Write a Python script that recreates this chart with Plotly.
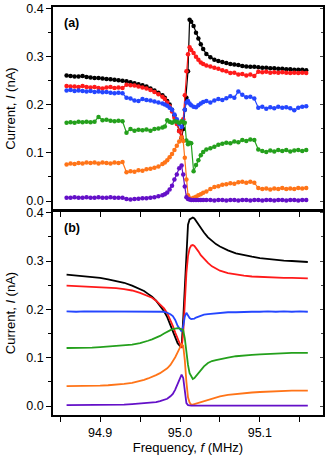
import plotly.graph_objects as go

# ---------------------------------------------------------------------------
# Panel (a): measured current vs. frequency (markers + lines)
# ---------------------------------------------------------------------------
freq_a = [
    94.858, 94.863, 94.868, 94.873, 94.878, 94.883, 94.888, 94.893, 94.898, 94.903,
    94.908, 94.913, 94.918, 94.923, 94.928, 94.933, 94.938, 94.943, 94.948, 94.953,
    94.958, 94.963, 94.968, 94.973, 94.978,
    94.981, 94.984, 94.987, 94.990, 94.993, 94.996, 94.999, 95.002, 95.004, 95.006,
    95.008, 95.010, 95.012, 95.014, 95.017, 95.020, 95.023, 95.026, 95.029,
    95.033, 95.038, 95.043, 95.048, 95.053, 95.058, 95.063, 95.068, 95.073, 95.078,
    95.083, 95.088, 95.093, 95.098, 95.103, 95.108, 95.113, 95.118, 95.123, 95.128,
    95.133, 95.138, 95.143, 95.148, 95.153, 95.158,
]

black_a = [
    0.261, 0.260, 0.259, 0.259, 0.260, 0.258, 0.257, 0.256, 0.256, 0.255,
    0.254, 0.253, 0.252, 0.251, 0.250, 0.249, 0.247, 0.245, 0.243, 0.241,
    0.238, 0.234, 0.230, 0.225, 0.220,
    0.215, 0.208, 0.201, 0.190, 0.178, 0.163, 0.146, 0.130, 0.150, 0.190,
    0.215, 0.270, 0.377, 0.373, 0.364, 0.350, 0.338, 0.326, 0.316,
    0.306, 0.299, 0.294, 0.291, 0.289, 0.287, 0.285, 0.284, 0.283, 0.281,
    0.280, 0.279, 0.279, 0.278, 0.277, 0.277, 0.276, 0.276, 0.275, 0.275,
    0.274, 0.274, 0.273, 0.273, 0.273, 0.272,
]

red_a = [
    0.239, 0.238, 0.238, 0.237, 0.239, 0.237, 0.236, 0.237, 0.235, 0.234,
    0.236, 0.237, 0.235, 0.236, 0.235, 0.242, 0.241, 0.240, 0.238, 0.236,
    0.234, 0.231, 0.227, 0.222, 0.217,
    0.212, 0.205, 0.197, 0.186, 0.173, 0.160, 0.145, 0.133, 0.170, 0.220,
    0.270, 0.305, 0.320, 0.314, 0.308, 0.300, 0.294, 0.288, 0.285,
    0.282, 0.280, 0.277, 0.275, 0.272, 0.270, 0.266, 0.267, 0.263, 0.264,
    0.261, 0.263, 0.260, 0.269, 0.268, 0.269, 0.267, 0.268, 0.267, 0.268,
    0.267, 0.266, 0.267, 0.266, 0.267, 0.266,
]

blue_a = [
    0.230, 0.231, 0.229, 0.230, 0.229, 0.228, 0.229, 0.227, 0.228, 0.226,
    0.227, 0.225, 0.224, 0.225, 0.224, 0.215, 0.213, 0.209, 0.208, 0.212,
    0.210, 0.209, 0.207, 0.205, 0.203,
    0.201, 0.198, 0.194, 0.190, 0.180, 0.170, 0.160, 0.154, 0.165, 0.190,
    0.205, 0.208, 0.203, 0.199, 0.196, 0.195, 0.199, 0.203, 0.206,
    0.208, 0.205, 0.209, 0.212, 0.210, 0.214, 0.218, 0.215, 0.228, 0.221,
    0.216, 0.217, 0.213, 0.194, 0.196, 0.192, 0.195, 0.193, 0.196, 0.194,
    0.195, 0.193, 0.189, 0.194, 0.196, 0.197,
]

green_a = [
    0.163, 0.164, 0.163, 0.165, 0.164, 0.165, 0.164, 0.165, 0.175, 0.168,
    0.169, 0.167, 0.166, 0.167, 0.166, 0.142, 0.150, 0.146, 0.148, 0.147,
    0.149, 0.146, 0.150, 0.151, 0.153,
    0.155, 0.168, 0.165, 0.163, 0.166, 0.165, 0.163, 0.166, 0.164, 0.163,
    0.126, 0.118, 0.121, 0.120, 0.062, 0.075, 0.085, 0.095, 0.102,
    0.107, 0.110, 0.113, 0.117, 0.119, 0.121, 0.120, 0.124, 0.122, 0.127,
    0.125, 0.128, 0.127, 0.107, 0.104, 0.102, 0.105, 0.103, 0.106, 0.104,
    0.106, 0.103, 0.105, 0.106, 0.104, 0.106,
]

orange_a = [
    0.076, 0.078, 0.077, 0.079, 0.078, 0.080, 0.079, 0.080, 0.078, 0.080,
    0.079, 0.078, 0.080, 0.079, 0.081, 0.060, 0.062, 0.061, 0.064, 0.063,
    0.066, 0.067, 0.069, 0.072, 0.077,
    0.080, 0.085, 0.091, 0.098, 0.106, 0.115, 0.124, 0.132, 0.125, 0.090,
    0.045, 0.012, 0.006, 0.005, 0.007, 0.009, 0.012, 0.014, 0.017,
    0.020, 0.025, 0.029, 0.031, 0.034, 0.035, 0.037, 0.036, 0.039, 0.040,
    0.038, 0.040, 0.038, 0.027, 0.025, 0.026, 0.024, 0.026, 0.025, 0.027,
    0.025, 0.026, 0.025, 0.027, 0.026, 0.027,
]

purple_a = [
    0.007, 0.007, 0.008, 0.007, 0.007, 0.008, 0.007, 0.007, 0.008, 0.007,
    0.007, 0.008, 0.007, 0.007, 0.007, 0.004, 0.003, 0.004, 0.005, 0.006,
    0.006, 0.007, 0.008, 0.010, 0.012,
    0.014, 0.018, 0.024, 0.032, 0.045, 0.055, 0.068, 0.074, 0.055, 0.030,
    0.008, 0.004, 0.003, 0.002, 0.002, 0.002, 0.002, 0.002, 0.002,
    0.002, 0.002, 0.001, 0.002, 0.002, 0.001, 0.002, 0.002, 0.001, 0.002,
    0.002, 0.001, 0.002, 0.002, 0.001, 0.002, 0.002, 0.001, 0.002, 0.002,
    0.001, 0.002, 0.002, 0.001, 0.002, 0.002,
]

# ---------------------------------------------------------------------------
# Panel (b): calculated current vs. frequency (smooth lines)
# ---------------------------------------------------------------------------
freq_b = [
    94.858, 94.870, 94.880, 94.890, 94.900, 94.910, 94.920, 94.930, 94.940, 94.950,
    94.955, 94.960, 94.965, 94.970, 94.975, 94.980, 94.984, 94.988, 94.991, 94.994,
    94.997, 95.000, 95.002, 95.004, 95.006, 95.008, 95.010, 95.012, 95.014, 95.016,
    95.018, 95.020, 95.023, 95.026, 95.030, 95.035, 95.040, 95.045, 95.050, 95.060,
    95.070, 95.080, 95.090, 95.100, 95.110, 95.120, 95.130, 95.140, 95.150, 95.160,
]

black_b = [
    0.272, 0.270, 0.269, 0.267, 0.265, 0.262, 0.259, 0.255, 0.249, 0.242,
    0.238, 0.232, 0.226, 0.218, 0.208, 0.196, 0.184, 0.168, 0.153, 0.140,
    0.130, 0.124, 0.122, 0.180, 0.250, 0.320, 0.375, 0.386, 0.389, 0.390,
    0.388, 0.383, 0.376, 0.368, 0.359, 0.349, 0.341, 0.335, 0.330, 0.322,
    0.316, 0.312, 0.309, 0.306, 0.304, 0.302, 0.301, 0.300, 0.299, 0.298,
]

red_b = [
    0.249, 0.248, 0.248, 0.247, 0.246, 0.245, 0.244, 0.242, 0.239, 0.234,
    0.231, 0.228, 0.224, 0.218, 0.211, 0.202, 0.192, 0.178, 0.166, 0.152,
    0.139, 0.127, 0.120, 0.150, 0.220, 0.275, 0.310, 0.326, 0.332, 0.333,
    0.331, 0.327, 0.320, 0.312, 0.304, 0.296, 0.289, 0.284, 0.280, 0.275,
    0.272, 0.270, 0.268, 0.267, 0.266, 0.266, 0.265, 0.265, 0.264, 0.264,
]

blue_b = [
    0.196, 0.195, 0.196, 0.196, 0.195, 0.196, 0.196, 0.195, 0.196, 0.196,
    0.196, 0.196, 0.195, 0.196, 0.195, 0.195, 0.193, 0.190, 0.186, 0.178,
    0.166, 0.157, 0.154, 0.165, 0.185, 0.193, 0.188, 0.182, 0.180, 0.180,
    0.181, 0.183, 0.185, 0.187, 0.189, 0.190, 0.191, 0.192, 0.193, 0.194,
    0.194, 0.195, 0.195, 0.195, 0.196, 0.195, 0.196, 0.195, 0.196, 0.195,
]

green_b = [
    0.120, 0.120, 0.121, 0.121, 0.122, 0.123, 0.124, 0.125, 0.127, 0.130,
    0.132, 0.135, 0.138, 0.141, 0.145, 0.150, 0.154, 0.157, 0.159, 0.160,
    0.161, 0.160, 0.158, 0.157, 0.140, 0.110, 0.085, 0.068, 0.060, 0.056,
    0.058, 0.062, 0.069, 0.075, 0.082, 0.089, 0.093, 0.095, 0.097, 0.100,
    0.103, 0.105, 0.106, 0.107, 0.108, 0.109, 0.109, 0.110, 0.110, 0.110,
]

orange_b = [
    0.041, 0.041, 0.041, 0.042, 0.042, 0.043, 0.044, 0.046, 0.048, 0.051,
    0.054, 0.057, 0.060, 0.064, 0.068, 0.073, 0.078, 0.085, 0.092, 0.101,
    0.111, 0.121, 0.128, 0.125, 0.095, 0.050, 0.018, 0.007, 0.003, 0.003,
    0.004, 0.005, 0.007, 0.009, 0.011, 0.014, 0.016, 0.018, 0.020, 0.023,
    0.025, 0.027, 0.028, 0.029, 0.030, 0.031, 0.031, 0.032, 0.032, 0.032,
]

purple_b = [
    0.002, 0.002, 0.002, 0.002, 0.002, 0.003, 0.003, 0.003, 0.004, 0.005,
    0.005, 0.006, 0.007, 0.008, 0.010, 0.012, 0.015, 0.020, 0.025, 0.034,
    0.046, 0.057, 0.065, 0.058, 0.028, 0.006, 0.002, 0.001, 0.001, 0.001,
    0.001, 0.001, 0.001, 0.001, 0.001, 0.001, 0.001, 0.001, 0.001, 0.001,
    0.001, 0.001, 0.001, 0.001, 0.001, 0.001, 0.001, 0.001, 0.001, 0.001,
]

x_tickvals = [94.85, 94.90, 94.95, 95.00, 95.05, 95.10, 95.15]
x_ticktext = ["", "94.9", "", "95.0", "", "95.1", ""]
y_tickvals = [0.0, 0.1, 0.2, 0.3, 0.4]

COLORS = ["#000000", "#ff1a1a", "#2446ff", "#24a01c", "#ff7418", "#6410c8"]
series_a = [black_a, red_a, blue_a, green_a, orange_a, purple_a]
series_b = [black_b, red_b, blue_b, green_b, orange_b, purple_b]

FONT = "Liberation Sans, Arial, sans-serif"
Y_RANGE = [-0.0186, 0.4035]

fig = go.Figure()

for ys, col in zip(series_a, COLORS):
    fig.add_trace(go.Scatter(
        x=freq_a, y=ys, mode="lines+markers",
        line=dict(color=col, width=1.2),
        marker=dict(color=col, size=4.5),
        xaxis="x2", yaxis="y2", showlegend=False,
    ))

for ys, col in zip(series_b, COLORS):
    fig.add_trace(go.Scatter(
        x=freq_b, y=ys, mode="lines",
        line=dict(color=col, width=1.8),
        xaxis="x", yaxis="y", showlegend=False,
    ))

# empty traces so the right-hand (inside tick) axes get drawn
fig.add_trace(go.Scatter(x=[], y=[], xaxis="x2", yaxis="y3", showlegend=False))
fig.add_trace(go.Scatter(x=[], y=[], xaxis="x", yaxis="y4", showlegend=False))

axis_common = dict(
    showline=True, linecolor="black", linewidth=1.5, mirror=True,
    ticks="outside", ticklen=5, tickwidth=1.2, tickcolor="black",
    showgrid=False, zeroline=False, automargin=False,
    tickfont=dict(family=FONT, size=12.5, color="black"),
)

x_common = dict(axis_common, range=[94.841, 95.179],
                tickvals=x_tickvals, ticktext=x_ticktext)

y_common = dict(
    axis_common, range=Y_RANGE, tickvals=y_tickvals, tickformat=".1f",
    minor=dict(dtick=0.05, tick0=0, ticks="outside", ticklen=3,
               tickcolor="black", tickwidth=1.2, showgrid=False),
    title=dict(text="Current, <i>I</i> (nA)",
               font=dict(family=FONT, size=13, color="black"), standoff=8),
)

y_right = dict(
    range=Y_RANGE, side="right", showline=False, showgrid=False, zeroline=False,
    showticklabels=False, automargin=False, tickvals=y_tickvals,
    ticks="inside", ticklen=3, tickwidth=1, tickcolor="#444444",
    minor=dict(dtick=0.05, tick0=0, ticks="inside", ticklen=2,
               tickcolor="#444444", tickwidth=1, showgrid=False),
)

fig.update_layout(
    width=333, height=459,
    margin=dict(l=53, r=10, t=7, b=44),
    paper_bgcolor="white", plot_bgcolor="white",
    xaxis=dict(x_common, anchor="y", domain=[0, 1],
               title=dict(text="Frequency, <i>f</i> (MHz)",
                          font=dict(family=FONT, size=13, color="black"),
                          standoff=4)),
    yaxis=dict(y_common, anchor="x", domain=[0, 0.5]),
    xaxis2=dict(x_common, anchor="y2", domain=[0, 1], showticklabels=False,
                matches="x"),
    yaxis2=dict(y_common, anchor="x2", domain=[0.5025, 1]),
    yaxis3=dict(y_right, overlaying="y2", anchor="x2"),
    yaxis4=dict(y_right, overlaying="y", anchor="x"),
    annotations=[
        dict(text="<b>(a)</b>", xref="x2 domain", yref="y2 domain",
             x=0.035, y=0.92, xanchor="left", yanchor="middle", showarrow=False,
             font=dict(family=FONT, size=12.5, color="black")),
        dict(text="<b>(b)</b>", xref="x domain", yref="y domain",
             x=0.035, y=0.915, xanchor="left", yanchor="middle", showarrow=False,
             font=dict(family=FONT, size=12.5, color="black")),
    ],
)

# drop the browser's default 8px body margin so the figure sits at the page origin
fig.write_html("out.html", config={"displayModeBar": False},
               post_script="document.body.style.margin='0px';")
